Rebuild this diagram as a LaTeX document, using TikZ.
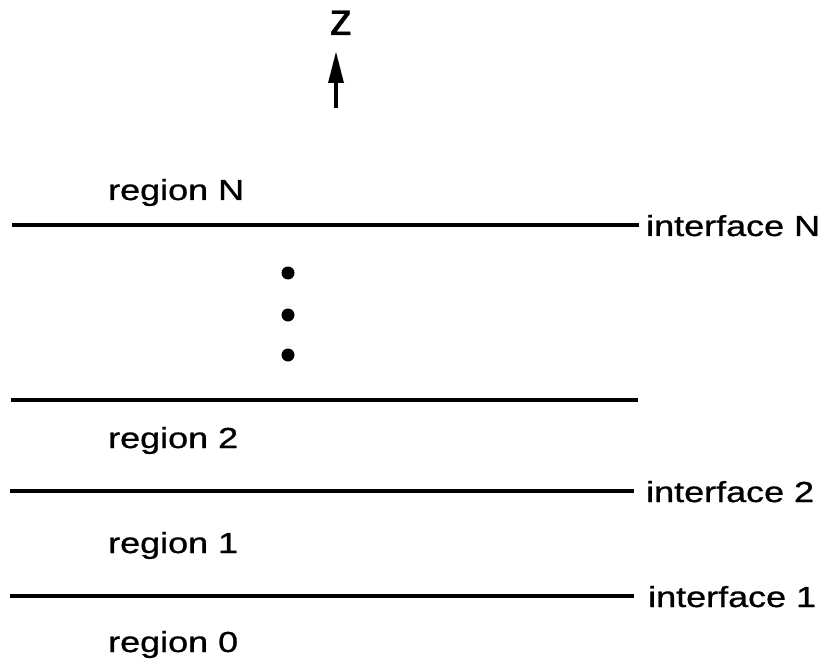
\documentclass[tikz,border=0pt]{standalone}
\usepackage{graphicx}
\usepackage{fontspec}
\setmainfont{Liberation Sans}
\newfontfamily\lblfont[FakeBold=0.8]{Liberation Sans}
\newcommand{\widetxt}[1]{\scalebox{1.24}[1]{#1}}
\tikzset{
  lbl/.style={font=\lblfont\fontsize{29}{34}\selectfont, inner sep=0pt, anchor=base west},
  layer/.style={line width=3.2pt},
  dotmark/.style={fill=black, draw=none},
}
\begin{document}
\begin{tikzpicture}[x=1pt, y=-1pt]
  \useasboundingbox (0,0) rectangle (827,663);

  % axis label and arrow
  \node[font=\lblfont\fontsize{46}{50}\selectfont, inner sep=0pt, anchor=base] (zlab) at (341,35) {z};
  \coordinate (zfoot) at (336,108);
  \coordinate (zneck) at (336,80);
  \coordinate (ztip) at (336,52);
  \draw[line width=3.2pt] (zfoot) -- (zneck);
  \fill (ztip) -- (328,83) -- (344,83) -- cycle;

  % region labels
  \node[lbl] (rN) at (108,200) {\widetxt{region N}};
  \node[lbl] (r2) at (108,448) {\widetxt{region 2}};
  \node[lbl] (r1) at (108,553) {\widetxt{region 1}};
  \node[lbl] (r0) at (108,652) {\widetxt{region 0}};

  % interface labels
  \node[lbl] (ifN) at (646,236) {\widetxt{interface N}};
  \node[lbl] (if2) at (646,502) {\widetxt{interface 2}};
  \node[lbl] (if1) at (648,607) {\widetxt{interface 1}};

  % layer boundaries
  \coordinate (aN) at (12,225);
  \coordinate (a3) at (11,400);
  \coordinate (b3) at (638,400);
  \coordinate (a2) at (10,491);
  \coordinate (a1) at (10,596);
  \draw[layer] (aN) -- ([xshift=-7pt]ifN.west |- aN);
  \draw[layer] (a3) -- (b3);
  \draw[layer] (a2) -- ([xshift=-12pt]if2.west |- a2);
  \draw[layer] (a1) -- ([xshift=-14pt]if1.west |- a1);

  % ellipsis dots
  \fill[dotmark] (288,273) circle (6.5pt);
  \fill[dotmark] (288,315) circle (6.5pt);
  \fill[dotmark] (288,355) circle (6.5pt);
\end{tikzpicture}
\end{document}
